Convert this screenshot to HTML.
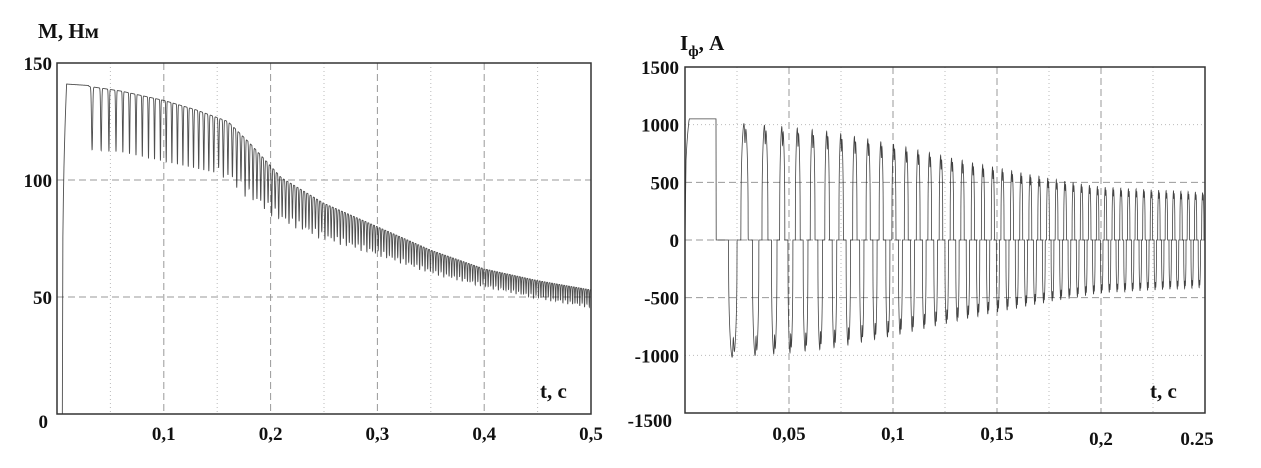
<!DOCTYPE html>
<html><head><meta charset="utf-8">
<style>
body{margin:0;background:#fff;width:1261px;height:468px;overflow:hidden}
svg{display:block}
text{font-family:"Liberation Serif","DejaVu Serif",serif;font-weight:bold;fill:#111}
</style></head>
<body>
<svg id="root" width="1261" height="468" viewBox="0 0 1261 468">
  <g id="left"></g>
  <g id="right"></g>
  <text x="38" y="38" font-size="21">M, Нм</text>
  <text x="540" y="398" font-size="21">t, c</text>
  <text x="680" y="50" font-size="21">I<tspan font-size="15" dy="6">ф</tspan><tspan dy="-6">, A</tspan></text>
  <text x="1150" y="398" font-size="21">t, c</text>
</svg>
<script>
// ---- Left chart data (torque) ----
const mYTicks=[0,50,100,150];
const mXTicks=[0.1,0.2,0.3,0.4,0.5];
const mXLabels=["0,1","0,2","0,3","0,4","0,5"];
const mEnvT=[0.03,0.06,0.1,0.13,0.16,0.18,0.21,0.25,0.3,0.35,0.4,0.45,0.5];
const mUpper=[140,138,134,130,125,116,101,90,80,70,62,57,53];
const mLower=[113,112,108,105,102,94,84,76,69,61,55,50,46];
const mFreqT=[0.03,0.05,0.1,0.15,0.2,0.3,0.5];
const mFreq=[100,150,185,220,300,380,450];
// ---- Right chart data (phase current) ----
const iYTicks=[-1500,-1000,-500,0,500,1000,1500];
const iXTicks=[0.05,0.1,0.15,0.2,0.25];
const iXLabels=["0,05","0,1","0,15","0,2","0.25"];
const iEnvT=[0.015,0.03,0.05,0.07,0.1,0.13,0.15,0.18,0.2,0.25];
const iAmp=[1050,1030,1000,960,850,720,640,530,470,420];
const iFreqT=[0.015,0.03,0.05,0.1,0.15,0.2,0.25];
const iFreq=[60,95,135,165,215,265,290];

const NS="http://www.w3.org/2000/svg";
function interp(xs,ys,x){if(x<=xs[0])return ys[0];for(let i=1;i<xs.length;i++){if(x<=xs[i]){const f=(x-xs[i-1])/(xs[i]-xs[i-1]);return ys[i-1]+f*(ys[i]-ys[i-1]);}}return ys[ys.length-1];}
function el(tag,attrs,parent){const e=document.createElementNS(NS,tag);for(const k in attrs)e.setAttribute(k,attrs[k]);parent.appendChild(e);return e;}

// Left axes
const L={x0:57,x1:591,y0:414,y1:63,xmax:0.5,ymax:150};
const lx=t=>L.x0+t/L.xmax*(L.x1-L.x0);
const ly=v=>L.y0-v/L.ymax*(L.y0-L.y1);
const gl=document.getElementById('left');
for(let k=1;k<10;k++){const t=k*0.05;const major=k%2===0;
 const g=el('line',{x1:lx(t),x2:lx(t),y1:L.y1,y2:L.y0,stroke:major?'#999':'#bbb','stroke-width':1,'stroke-dasharray':major?'7,4':'1,3'},gl);
 }
[50,100].forEach(v=>{const g=el('line',{x1:L.x0,x2:L.x1,y1:ly(v),y2:ly(v),stroke:'#999','stroke-dasharray':'7,4'},gl);
 });
let ph=0,pts=[];
pts.push([lx(0.005),ly(0)]);
for(let t=0.005;t<0.03;t+=0.0005){pts.push([lx(t),ly(t<0.009?141*Math.min(1,(t-0.005)/0.004)**0.3:141-(t-0.009)*30)]);}
for(let t=0.03;t<=0.5;t+=0.00004){
 const f=interp(mFreqT,mFreq,t);ph+=f*0.00004;
 const p=ph-Math.floor(ph);
 const u=interp(mEnvT,mUpper,t),lo=interp(mEnvT,mLower,t);
 const w=t<0.1?0.08:(t<0.2?0.08+(t-0.1)*0.8:0.16);
 const s=Math.exp(-Math.pow((p-0.3)/w,2));
 const jitter=(t>0.15?0.12*Math.sin(ph*2.7)*(u-lo):0);
 pts.push([lx(t),ly(u-(u-lo)*s+jitter*s)]);}
const pl=el('polyline',{points:pts.map(q=>q[0].toFixed(2)+','+q[1].toFixed(2)).join(' '),fill:'none',stroke:'#222','stroke-width':0.9,'stroke-opacity':0.8},gl);

const fr=el('rect',{x:L.x0,y:L.y1,width:L.x1-L.x0,height:L.y0-L.y1,fill:'none',stroke:'#333','stroke-width':1.5},gl);

mYTicks.forEach(v=>{const tx=el('text',{x:v===0?48:52,y:ly(v)+(v===0?14:7),'font-size':19,'text-anchor':'end'},gl);tx.textContent=String(v);
 });
mXTicks.forEach((t,i)=>{const tx=el('text',{x:lx(t),y:440,'font-size':19,'text-anchor':'middle'},gl);tx.textContent=mXLabels[i];
 });

// Right axes
const R={x0:685,x1:1205,y0:413,y1:67,xmax:0.25,ymin:-1500,ymax:1500};
const rx=t=>R.x0+t/R.xmax*(R.x1-R.x0);
const ry=v=>R.y0-(v-R.ymin)/(R.ymax-R.ymin)*(R.y0-R.y1);
const gr=document.getElementById('right');
for(let k=1;k<10;k++){const t=k*0.025;const major=k%2===0;
 const g=el('line',{x1:rx(t),x2:rx(t),y1:R.y1,y2:R.y0,stroke:major?'#999':'#bbb','stroke-dasharray':major?'7,4':'1,3'},gr);
 }
[-1000,-500,0,500,1000].forEach(v=>{const major=Math.abs(v)<1000;
 const g=el('line',{x1:R.x0,x2:R.x1,y1:ry(v),y2:ry(v),stroke:major?'#999':'#bbb','stroke-dasharray':major?'7,4':'1,3'},gr);
 });
let rp=[[rx(0),ry(0)]];
for(let t=0.0005;t<0.015;t+=0.0002){rp.push([rx(t),ry(t<0.003?1050*Math.min(1,t/0.002)**0.3:1050)]);}
let q=-0.3;
function wave(p){
 const lobe=(a,b)=>{if(p<a||p>b)return 0;const x=(p-a)/(b-a);
  const notch=1-0.18*Math.exp(-Math.pow((x-0.55)/0.08,2));return Math.pow(Math.sin(Math.PI*x),0.35)*notch;};
 return -lobe(0.1,0.42)+lobe(0.58,0.9);}
for(let t=0.015;t<=0.25;t+=0.00004){
 const f=interp(iFreqT,iFreq,t);q+=f*0.00004;
 const p=((q%1)+1)%1;const a=interp(iEnvT,iAmp,t);
 rp.push([rx(t),ry(q<0?0:a*wave(p))]);}
const pr=el('polyline',{points:rp.map(z=>z[0].toFixed(2)+','+z[1].toFixed(2)).join(' '),fill:'none',stroke:'#222','stroke-width':0.8,'stroke-opacity':0.85},gr);

const fr2=el('rect',{x:R.x0,y:R.y1,width:R.x1-R.x0,height:R.y0-R.y1,fill:'none',stroke:'#333','stroke-width':1.5},gr);

iYTicks.forEach(v=>{const tx=el('text',{x:v===-1500?672:679,y:ry(v)+(v===-1500?14:7),'font-size':19,'text-anchor':'end'},gr);tx.textContent=String(v);
 });
iXTicks.forEach((t,i)=>{const tx=el('text',{x:rx(t)-(i===4?8:0),y:i>=3?445:440,'font-size':19,'text-anchor':'middle'},gr);tx.textContent=iXLabels[i];
 });
</script>
</body></html>
